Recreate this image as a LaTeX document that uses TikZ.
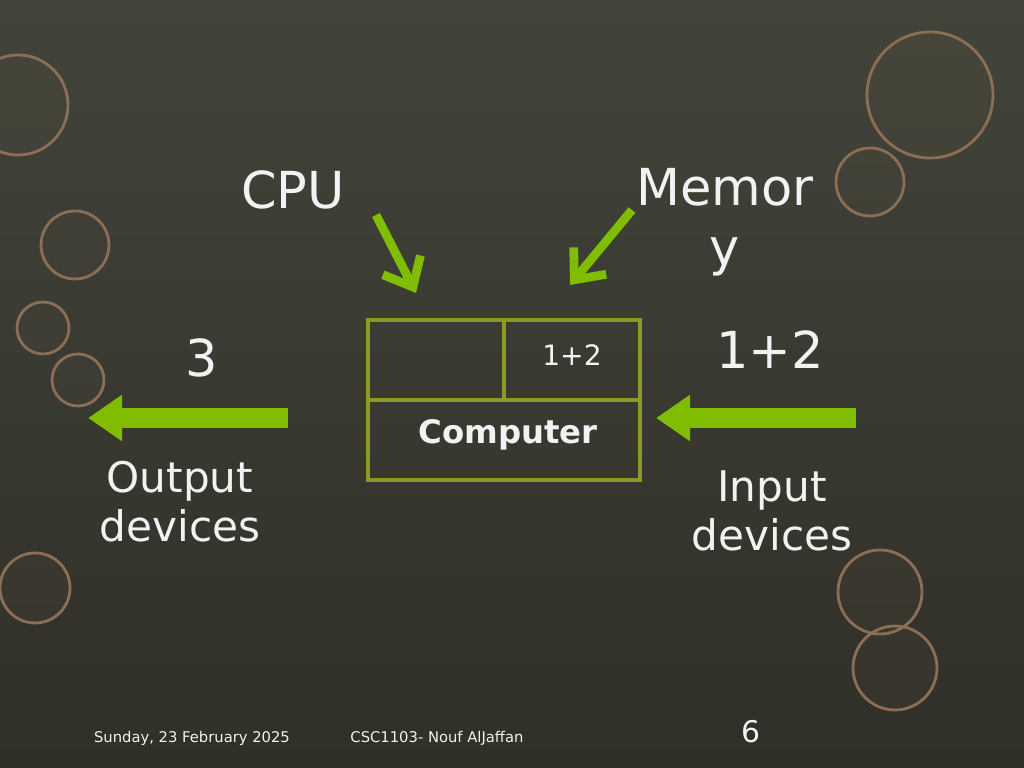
\documentclass[tikz,border=0pt]{standalone}
\usepackage{fontspec}
\setmainfont{DejaVu Sans}
\usetikzlibrary{arrows.meta}
\definecolor{bgdark}{HTML}{302F28}
\definecolor{bglight}{HTML}{42443A}
\definecolor{ringcol}{HTML}{8A6E55}
\definecolor{arrowgreen}{HTML}{80BC00}
\definecolor{boxline}{HTML}{8C9A25}
\definecolor{txt}{HTML}{F2F2F2}
\tikzset{
  ring/.style={draw=ringcol, line width=0.8pt, fill=ringcol, fill opacity=0.06},
  bigtext/.style={text=txt, font=\fontsize{14.5}{17}\selectfont},
  smalltext/.style={text=txt, font=\fontsize{4.2}{5}\selectfont},
  thinarrow/.style={draw=arrowgreen, line width=2.5pt, -{Straight Barb[length=7pt,width=12pt]}},
  blockarrow/.style={draw=arrowgreen, line width=0.2cm, -{Triangle[length=0.34cm,width=0.44cm]}},
  cell/.style={draw=boxline, line width=1pt}
}
\begin{document}
\begin{tikzpicture}[x=1cm,y=1cm]
% background
\shade[top color=bglight, bottom color=bgdark] (0,0) rectangle (10.24,7.68);
\useasboundingbox (0,0) rectangle (10.24,7.68);

% decorative rings
\foreach \cx/\cy/\r in {0.18/6.63/0.50, 9.30/6.73/0.63, 8.70/5.86/0.34, 0.75/5.23/0.34,
    0.43/4.40/0.26, 0.78/3.88/0.26, 0.35/1.80/0.35, 8.80/1.76/0.42, 8.95/1.00/0.42}
  \draw[ring] (\cx,\cy) circle (\r);

% computer box
\draw[cell] (3.68,2.88) rectangle (6.40,4.48);
\draw[cell] (3.68,3.68) -- (6.40,3.68);
\draw[cell] (5.04,3.68) -- (5.04,4.48);
\node[text=txt, font=\fontsize{8}{10}\selectfont] (sum) at (5.72,4.13) {1+2};
\node[text=txt, font=\bfseries\fontsize{9.2}{11}\selectfont] (computer) at (5.08,3.33) {Computer};

% labels
\node[bigtext] (cpu) at (2.93,5.78) {CPU};
\node[bigtext, align=center] (memory) at (7.25,5.46) {Memor\\y};
\node[bigtext] (result) at (2.02,4.10) {3};
\node[bigtext] (operands) at (7.70,4.18) {1+2};
\node[text=txt, font=\fontsize{12}{14}\selectfont, align=center] (output) at (1.80,2.66) {Output\\devices};
\node[text=txt, font=\fontsize{12}{14}\selectfont, align=center] (input) at (7.72,2.57) {Input\\devices};

% arrows
\coordinate (cpuA) at (3.76,5.53);
\coordinate (cpuB) at (4.16,4.75);
\coordinate (memA) at (6.32,5.58);
\coordinate (memB) at (5.70,4.83);
\coordinate (outA) at (2.88,3.50);
\coordinate (outB) at (0.88,3.50);
\coordinate (inA) at (8.56,3.50);
\coordinate (inB) at (6.56,3.50);
\draw[thinarrow] (cpuA) -- (cpuB);
\draw[thinarrow] (memA) -- (memB);
\draw[blockarrow] (outA) -- (outB);
\draw[blockarrow] (inA) -- (inB);

% footer
\node[smalltext] (date) at (1.92,0.30) {Sunday, 23 February 2025};
\node[smalltext] (course) at (4.37,0.30) {CSC1103- Nouf AlJaffan};
\node[text=txt, font=\fontsize{8.5}{10}\selectfont] (page) at (7.51,0.36) {6};
\end{tikzpicture}
\end{document}
